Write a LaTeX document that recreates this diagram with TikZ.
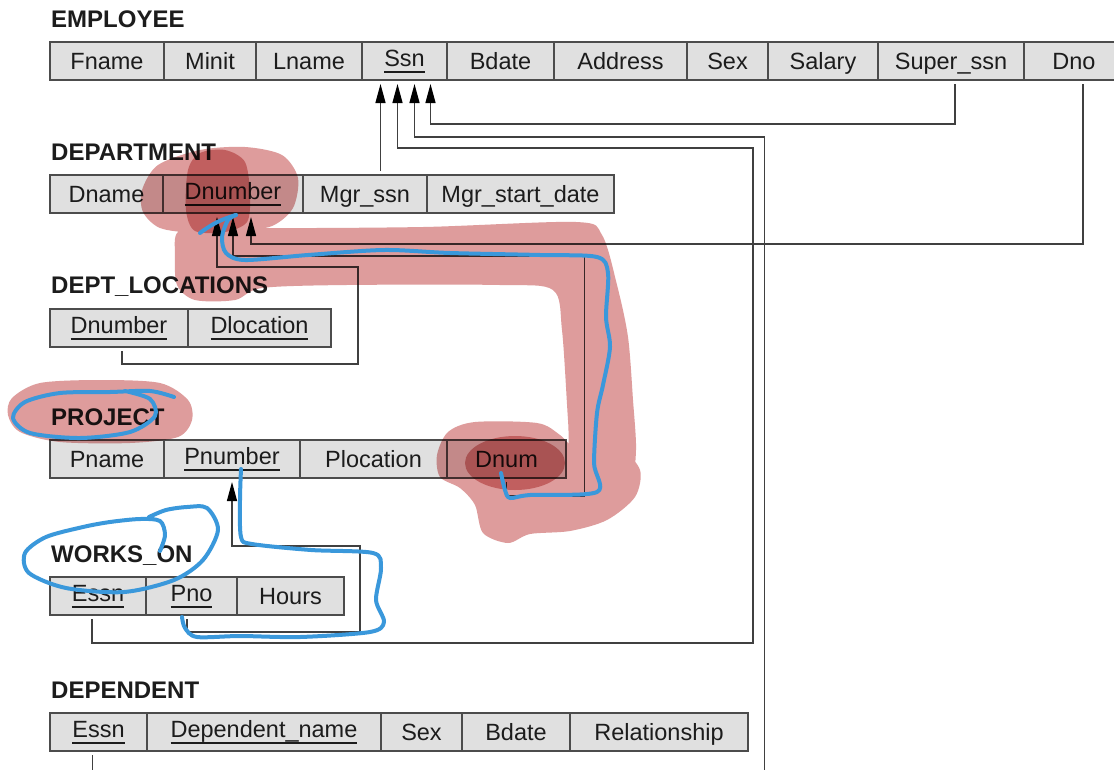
\documentclass[tikz,border=0pt]{standalone}
\usepackage{fontspec}
\setmainfont{Liberation Sans}
\usetikzlibrary{arrows.meta, positioning}

\definecolor{ink}{RGB}{28,28,28}
\definecolor{hlred}{RGB}{222,156,156}
\definecolor{penblue}{RGB}{58,152,219}

% primary key: raised text with a rule under it
\newcommand{\pkey}[1]{\raisebox{3pt}{\setbox0=\hbox{#1}\rlap{\rule[-6pt]{\wd0}{1.3pt}}\box0}}

\begin{document}
\begin{tikzpicture}[x=1pt, y=-1pt,
    cell/.style={draw=black!70, line width=1.5pt, fill=black!12, anchor=north west, minimum height=38, inner sep=0pt, outer sep=0pt, text height=17pt, text depth=0pt, text=ink, font=\fontsize{23.5}{28}\selectfont},
    tabname/.style={anchor=base west, inner sep=0pt, text=ink, font=\fontsize{24}{28}\selectfont\bfseries},
    fk/.style={draw=black!75, line width=1.3pt, shorten <=4pt, shorten >=4pt, -{Triangle[length=19pt, width=10pt, color=black]}},
    hl/.style={fill=hlred, blend mode=multiply},
    scribble/.style={draw=penblue, line width=4pt, line cap=round, line join=round}]

    \fill[white] (0,0) rectangle (1114,769);
    \useasboundingbox (0,0) rectangle (1114,769);
    \clip (0,0) rectangle (1114,769);

    % Relation names
    \node[tabname] (n-emp) at (51,27) {EMPLOYEE};
    \node[tabname] (n-dept) at (51,160) {DEPARTMENT};
    \node[tabname] (n-loc) at (51,293) {DEPT\_LOCATIONS};
    \node[tabname] (n-proj) at (51,425) {PROJECT};
    \node[tabname] (n-works) at (51,562) {WORKS\_ON};
    \node[tabname] (n-dep) at (51,698) {DEPENDENT};

    % EMPLOYEE
    \node[cell, minimum width=114] (e-fname) at (50,42) {Fname};
    \node[cell, minimum width=92, right=0pt of e-fname] (e-minit) {Minit};
    \node[cell, minimum width=106, right=0pt of e-minit] (e-lname) {Lname};
    \node[cell, minimum width=85, right=0pt of e-lname] (e-ssn) {\pkey{Ssn}};
    \node[cell, minimum width=107, right=0pt of e-ssn] (e-bdate) {Bdate};
    \node[cell, minimum width=133, right=0pt of e-bdate] (e-address) {Address};
    \node[cell, minimum width=81, right=0pt of e-address] (e-sex) {Sex};
    \node[cell, minimum width=110, right=0pt of e-sex] (e-salary) {Salary};
    \node[cell, minimum width=146, right=0pt of e-salary] (e-super) {Super\_ssn};
    \node[cell, minimum width=100, right=0pt of e-super] (e-dno) {Dno};

    % DEPARTMENT
    \node[cell, minimum width=113] (d-dname) at (50,175) {Dname};
    \node[cell, minimum width=140, right=0pt of d-dname] (d-dnumber) {\pkey{Dnumber}};
    \node[cell, minimum width=124, right=0pt of d-dnumber] (d-mgrssn) {Mgr\_ssn};
    \node[cell, minimum width=187, right=0pt of d-mgrssn] (d-mgrdate) {Mgr\_start\_date};

    % DEPT_LOCATIONS
    \node[cell, minimum width=138] (l-dnumber) at (50,309) {\pkey{Dnumber}};
    \node[cell, minimum width=143, right=0pt of l-dnumber] (l-dlocation) {\pkey{Dlocation}};

    % PROJECT
    \node[cell, minimum width=114] (p-pname) at (50,440) {Pname};
    \node[cell, minimum width=136, right=0pt of p-pname] (p-pnumber) {\pkey{Pnumber}};
    \node[cell, minimum width=147, right=0pt of p-pnumber] (p-plocation) {Plocation};
    \node[cell, minimum width=119, right=0pt of p-plocation] (p-dnum) {Dnum};

    % WORKS_ON
    \node[cell, minimum width=96] (w-essn) at (50,577) {\pkey{Essn}};
    \node[cell, minimum width=91, right=0pt of w-essn] (w-pno) {\pkey{Pno}};
    \node[cell, minimum width=107, right=0pt of w-pno] (w-hours) {Hours};

    % DEPENDENT
    \node[cell, minimum width=97] (dp-essn) at (50,713) {\pkey{Essn}};
    \node[cell, minimum width=234, right=0pt of dp-essn] (dp-name) {\pkey{Dependent\_name}};
    \node[cell, minimum width=81, right=0pt of dp-name] (dp-sex) {Sex};
    \node[cell, minimum width=108, right=0pt of dp-sex] (dp-bdate) {Bdate};
    \node[cell, minimum width=178, right=0pt of dp-bdate] (dp-rel) {Relationship};

    % Arrow targets
    \coordinate (ssn1) at ([xshift=-24pt]e-ssn.south);
    \coordinate (ssn2) at ([xshift=-7pt]e-ssn.south);
    \coordinate (ssn3) at ([xshift=10pt]e-ssn.south);
    \coordinate (ssn4) at ([xshift=26pt]e-ssn.south);
    \coordinate (dno1) at ([xshift=-16pt]d-dnumber.south);
    \coordinate (dno2) at (d-dnumber.south);
    \coordinate (dno3) at ([xshift=18pt]d-dnumber.south);

    % Foreign keys
    \draw[fk] (ssn1 |- d-mgrssn.north) -- (ssn1);
    \draw[fk] ([xshift=4pt]e-super.south) -- ++(0,44) -| (ssn4);
    \draw[fk] ([xshift=-6pt]dp-essn.south) -- ++(0,60) -- ++(672,0) |- ([yshift=-57pt]ssn3) -- (ssn3);
    \draw[fk] ([xshift=-6pt]w-essn.south) -- ++(0,28) -- ++(661,0) |- ([yshift=-68pt]ssn2) -- (ssn2);
    \draw[fk] ([xshift=9pt]e-dno.south) -- ++(0,164) -| (dno3);
    \draw[fk] (p-dnum.south) -- ++(0,18) -- ++(78,0) |- ([yshift=-43pt]dno2) -- (dno2);
    \draw[fk] ([xshift=3pt]l-dnumber.south) -- ++(0,17) -- ++(236,0) |- ([yshift=-54pt]dno1) -- (dno1);
    \draw[fk] ([xshift=-4.5pt]w-pno.south) -- ++(0,17) -- ++(173,0) |- ([yshift=-68pt]p-pnumber.south) -- (p-pnumber.south);

    % Highlighter
    \fill[hl]
      plot[smooth cycle] coordinates {(142,190) (158,165) (200,150) (245,147) (282,155) (298,178) (293,208) (272,226) (235,232) (195,233) (160,228) (143,212)}
      plot[smooth cycle] coordinates {(178,232) (210,225) (254,228) (423,227) (576,222) (602,235) (617,285) (628,337) (633,400) (636,450) (630,480) (600,490) (572,470) (568,420) (562,330) (553,290) (500,285) (346,285) (262,288) (235,300) (195,300) (177,285) (175,255)}
      plot[smooth cycle] coordinates {(437,455) (448,432) (475,422) (537,423) (560,435) (580,452) (620,450) (640,470) (635,497) (607,520) (570,531) (530,534) (508,543) (483,533) (475,505) (460,488) (440,477)}
      plot[smooth cycle] coordinates {(12,398) (40,383) (100,380) (160,383) (188,400) (192,420) (178,437) (130,443) (60,442) (20,432) (8,415)};
    \fill[hl]
      plot[smooth cycle] coordinates {(188,170) (200,153) (225,150) (245,162) (250,195) (247,222) (225,232) (195,231) (186,210)}
      (515,463) ellipse [x radius=50, y radius=27];

    % Pen
    \draw[scribble] plot[smooth] coordinates {(174,397) (150,391) (110,392) (60,393) (25,402) (13,418) (30,433) (80,438) (130,432) (155,416) (150,399) (125,391)};
    \draw[scribble] plot[smooth] coordinates {(160,551) (165,535) (160,521) (140,519) (110,522) (83,527) (46,537) (25,553) (29,573) (66,588) (124,592) (174,580) (203,560) (218,530) (207,508) (187,507) (166,510) (149,517)};
    \draw[scribble] plot[smooth] coordinates {(241,469) (240,500) (241,537) (252,544) (311,550) (373,553) (381,568) (376,600) (384,622) (370,632) (300,637) (240,636) (197,637) (185,628) (182,617)};
    \draw[scribble] plot[smooth] coordinates {(501,473) (505,490) (510,498) (530,495) (597,492) (594,463) (597,413) (603,385) (610,347) (606,317) (608,273) (597,257) (540,255) (450,253) (384,250) (308,255) (245,260) (226,253) (222,237) (228,220) (236,215)};
    \draw[scribble] (236,215) to[bend right=10] (200,233);

\end{tikzpicture}
\end{document}
